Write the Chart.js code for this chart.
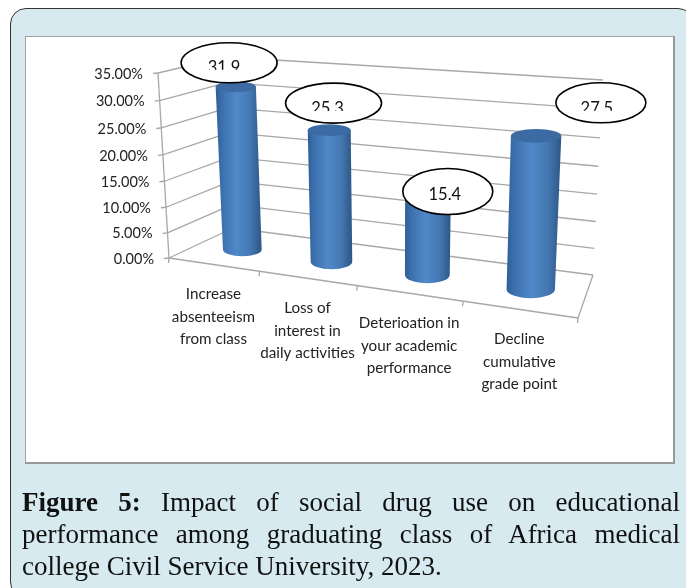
<!DOCTYPE html>
<html><head><meta charset="utf-8">
<script src="https://cdn.jsdelivr.net/npm/chart.js@4/dist/chart.umd.js"></script>
<style>
html,body{margin:0;padding:0;width:686px;height:588px;overflow:hidden;background:#fff}
#panel{position:absolute;left:10px;top:8px;width:684px;height:590px;background:#d6eaf0;border:1.5px solid #333;border-radius:16px;box-sizing:border-box}
#box{position:absolute;left:25px;top:36px;width:650px;height:428px;background:#fff;border:1px solid #a0a0a0;border-bottom:2px solid #999;border-right:2px solid #999;box-sizing:border-box}
#cap{position:absolute;left:22px;top:486px;width:658px;font:27px/32px "Liberation Serif",serif;color:#111}
#cap div{white-space:nowrap}
#cap div.j{text-align:justify;text-align-last:justify;white-space:normal}
canvas{position:absolute;left:0;top:0}
</style></head><body>
<div id="panel"></div><div id="box"></div>
<canvas id="c" width="686" height="588"></canvas>
<div id="cap"><div class="j"><b>Figure 5:</b> Impact of social drug use on educational</div><div class="j">performance among graduating class of Africa medical</div><div>college Civil Service University, 2023.</div></div>
<script>
const categories=[["Increase","absenteeism","from class"],["Loss of","interest in","daily activities"],["Deterioation in","your academic","performance"],["Decline","cumulative","grade point"]];
const values=[31.9,25.3,15.4,27.5];
const tickValues=[0,5,10,15,20,25,30,35];
const tickLabels=["0.00%","5.00%","10.00%","15.00%","20.00%","25.00%","30.00%","35.00%"];
// layout of the 3-D box: floor corners, wall heights, bar placement
const floorQ=[[169,258],[578,318],[233,228],[593,275]];
const wallH={fl:185,fr:211,bl:171,br:195};
const leanCentre=397,leanRate=0.000261,heightCurve=1.0576;
const barDepth=0.45,barHeightDepth=0.6;
const calloutOffset=[[-6.5,-24],[4.5,-27],[20,-2],[65,-33]];
const calloutSize=[[48,20],[48,20],[45,23],[45,20]];
const calloutText=[[-5,5],[-6,6],[-3,3],[-4,6]];
const calloutClip=[7,8,null,8];
function det(a,b){return a[0]*b[1]-a[1]*b[0]}
function hom(q){const[p00,p10,p01,p11]=q;
 const d1=[p10[0]-p11[0],p10[1]-p11[1]],d2=[p01[0]-p11[0],p01[1]-p11[1]];
 const s=[p00[0]-p10[0]+p11[0]-p01[0],p00[1]-p10[1]+p11[1]-p01[1]];
 const D=det(d1,d2),g=det(s,d2)/D,h=det(d1,s)/D;
 const a=[0,1].map(i=>p10[i]*(1+g)-p00[i]),b=[0,1].map(i=>p01[i]*(1+h)-p00[i]);
 return(u,d)=>{const w=1+g*u+h*d;return[(p00[0]+a[0]*u+b[0]*d)/w,(p00[1]+a[1]*u+b[1]*d)/w]}}
const H0=hom(floorQ);
const lerp=(a,b,t)=>a+(b-a)*t;
function P(u,v,d,hd){
 const a=H0(u,d),xL=H0(0,d)[0],xR=H0(1,d)[0],s=(a[0]-xL)/(xR-xL);
 const D=hd===undefined?d:hd;
 const h=lerp(lerp(wallH.fl,wallH.fr,s),lerp(wallH.bl,wallH.br,s),D);
 const f=v/(heightCurve+(1-heightCurve)*v);
 return[a[0]+(a[0]-leanCentre)*leanRate*h*f,a[1]-h*f];
}
const F='Lato, "Open Sans", sans-serif';
function uvOf(chart,x,y){const A=chart.chartArea;return[(x-A.left)/A.width,(A.bottom-y)/A.height]}
function line(ctx,a,b){ctx.beginPath();ctx.moveTo(a[0],a[1]);ctx.lineTo(b[0],b[1]);ctx.stroke()}
function drawCyl(chart,el,ctx){
 const[u,vt]=uvOf(chart,el.x,el.y);const du=el.width/2/chart.chartArea.width;
 const bl=P(u-du,0,barDepth),br=P(u+du,0,barDepth),tl=P(u-du,vt,barDepth,barHeightDepth),tr=P(u+du,vt,barDepth,barHeightDepth);
 const rb=(br[0]-bl[0])/2,rt=(tr[0]-tl[0])/2,ryb=rb*.36,ryt=rt*.27;
 const bc=[(bl[0]+br[0])/2,(bl[1]+br[1])/2],tc=[(tl[0]+tr[0])/2,(tl[1]+tr[1])/2];
 const g=ctx.createLinearGradient(Math.min(bl[0],tl[0]),0,Math.max(br[0],tr[0]),0);
 g.addColorStop(0,'#2f5f96');g.addColorStop(.14,'#3c70ad');g.addColorStop(.45,'#5088c9');g.addColorStop(.75,'#4478b2');g.addColorStop(1,'#2d5685');
 ctx.save();ctx.fillStyle=g;ctx.beginPath();
 ctx.moveTo(tc[0]-rt,tc[1]);ctx.lineTo(bc[0]-rb,bc[1]);
 ctx.ellipse(bc[0],bc[1],rb,ryb,0,Math.PI,0,true);
 ctx.lineTo(tc[0]+rt,tc[1]);ctx.closePath();ctx.fill();
 ctx.fillStyle='#3b6ba2';ctx.beginPath();ctx.ellipse(tc[0],tc[1],rt,ryt,0,0,Math.PI*2);ctx.fill();
 ctx.restore();
}
const box3d={id:'box3d',
 afterDatasetsUpdate(chart){chart.getDatasetMeta(0).data.forEach(el=>{el.draw=ctx=>drawCyl(chart,el,ctx)})},
 beforeDatasetsDraw(chart){
  const ctx=chart.ctx,Y=chart.scales.y,X=chart.scales.x,A=chart.chartArea;
  ctx.save();ctx.strokeStyle='#a8a8a8';ctx.lineWidth=1.3;
  tickValues.forEach((t,i)=>{const v=(A.bottom-Y.getPixelForValue(t))/A.height;
   const f=P(0,v,0),b=P(0,v,1),r=P(1,v,1);
   line(ctx,f,b);line(ctx,b,r);line(ctx,[f[0]-5,f[1]+.5],f);
   ctx.fillStyle='#222';ctx.font='14.5px '+F;ctx.textAlign='right';ctx.textBaseline='middle';
   ctx.fillText(tickLabels[i],f[0]-15,f[1]+1);
  });
  line(ctx,P(0,0,0),P(0,1,0));
  line(ctx,P(0,0,0),P(1,0,0));line(ctx,P(1,0,0),P(1,0,1));
  const n=categories.length;
  for(let i=0;i<=n;i++){const px=(X.getPixelForValue(0)-A.left)*(2*i)+A.left;const a=P((px-A.left)/A.width,0,0);line(ctx,a,[a[0]-.5,a[1]+5])}
  ctx.fillStyle='#222';ctx.font='15.2px '+F;ctx.textAlign='center';ctx.textBaseline='middle';
  categories.forEach((ls,i)=>{const a=P((X.getPixelForValue(i)-A.left)/A.width,0,0);
   ls.forEach((s,k)=>ctx.fillText(s,a[0],a[1]+30+k*22.4))});
  ctx.restore();
 },
 afterDatasetsDraw(chart){
  const ctx=chart.ctx;
  chart.getDatasetMeta(0).data.forEach((el,i)=>{
   const[u,v]=uvOf(chart,el.x,el.y);const t=P(u,v,barDepth,barHeightDepth);
   const cx=t[0]+calloutOffset[i][0],cy=t[1]+calloutOffset[i][1];
   ctx.save();ctx.fillStyle='#fff';ctx.strokeStyle='#000';ctx.lineWidth=1.6;
   ctx.beginPath();ctx.ellipse(cx,cy,calloutSize[i][0],calloutSize[i][1],0,0,Math.PI*2);ctx.fill();ctx.stroke();
   if(calloutClip[i]!==null){ctx.beginPath();ctx.rect(cx-60,cy-30,120,30+calloutClip[i]);ctx.clip()}
   ctx.fillStyle='#111';ctx.font='16.5px '+F;ctx.textAlign='center';ctx.textBaseline='middle';
   ctx.fillText(values[i].toFixed(1),cx+calloutText[i][0],cy+calloutText[i][1]);
   ctx.restore();
  });
 }};
new Chart(document.getElementById('c'),{
 type:'bar',
 data:{labels:categories,datasets:[{data:values,backgroundColor:'#4a7ebb',barPercentage:.45,categoryPercentage:1,clip:false}]},
 options:{responsive:false,animation:false,
  layout:{padding:{left:169,right:108,top:73,bottom:330}},
  plugins:{legend:{display:false},tooltip:{enabled:false}},
  scales:{x:{display:false},y:{display:false,min:0,max:35,ticks:{stepSize:5}}}},
 plugins:[box3d]});
</script>
</body></html>
